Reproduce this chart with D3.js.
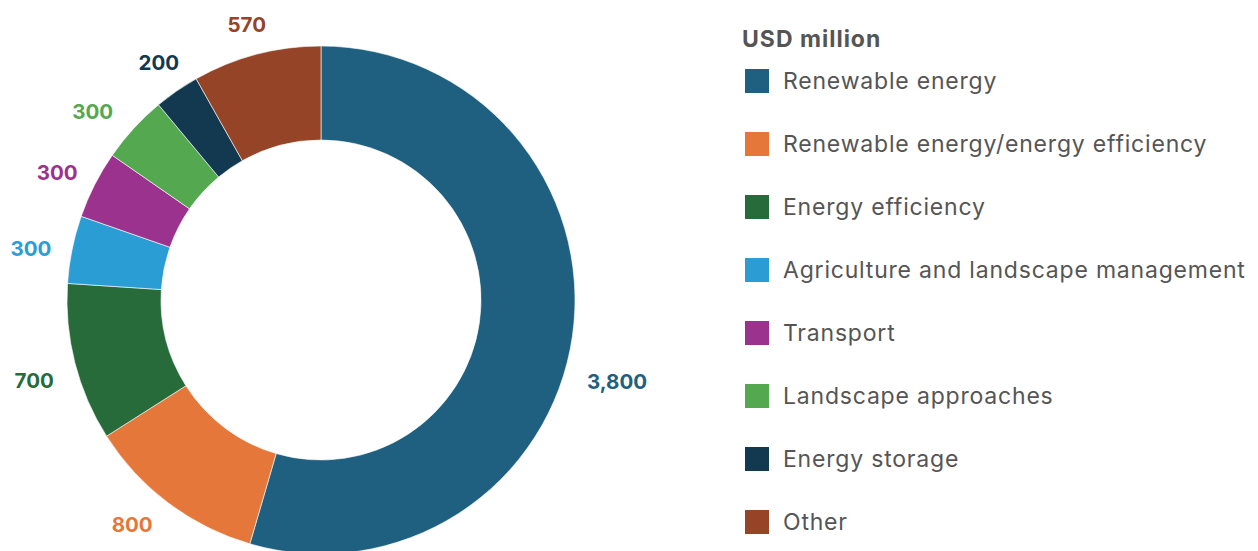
<!DOCTYPE html>
<html>
<head>
<meta charset="utf-8">
<script src="https://cdn.jsdelivr.net/npm/d3@7"></script>
<style>
  html, body { margin: 0; padding: 0; background: #fff; }
  svg { display: block; }
</style>
</head>
<body>
<svg id="chart" width="1258" height="551"></svg>
<script>
// Climate finance by sector, USD million
const categories = [
  "Renewable energy",
  "Renewable energy/energy efficiency",
  "Energy efficiency",
  "Agriculture and landscape management",
  "Transport",
  "Landscape approaches",
  "Energy storage",
  "Other"
];
const values = [3800, 800, 700, 300, 300, 300, 200, 570];
const valueLabels = ["3,800", "800", "700", "300", "300", "300", "200", "570"];
const colors = ["#1f6080", "#e6773b", "#276b3b", "#2a9dd4", "#9b338e", "#54a84f", "#12394f", "#954427"];
const legendTitle = "USD million";

const svg = d3.select("#chart");
const cx = 321, cy = 300, outerR = 254, innerR = 160, labelR = 296;

const pie = d3.pie().sort(null).value(d => d)(values);
const arc = d3.arc().innerRadius(innerR).outerRadius(outerR);
const labelArc = d3.arc().innerRadius(labelR).outerRadius(labelR);

const g = svg.append("g").attr("transform", `translate(${cx},${cy})`);

g.selectAll("path.slice")
  .data(pie)
  .join("path")
  .attr("class", "slice")
  .attr("d", arc)
  .attr("fill", (d, i) => colors[i])
  .attr("stroke", "#fff")
  .attr("stroke-width", 0.6);

// label placement tweaks so values sit clear of the ring
const nudge = { 0: [3, 33], 1: [-11, -19], 5: [-10, 4], 6: [6, -1], 7: [1, 4] };

g.selectAll("text.val")
  .data(pie)
  .join("text")
  .attr("class", "val")
  .attr("transform", (d, i) => {
    const [x, y] = labelArc.centroid(d);
    const [nx, ny] = nudge[i] || [0, 0];
    return `translate(${x + nx},${y + 7 + ny})`;
  })
  .attr("text-anchor", "middle")
  .attr("dominant-baseline", "central")
  .attr("font-family", "Inter, 'Noto Sans', sans-serif")
  .attr("font-weight", 700)
  .attr("font-size", 20.5)
  .attr("fill", (d, i) => colors[i])
  .text((d, i) => valueLabels[i]);

// legend
const legend = svg.append("g").attr("transform", "translate(742,0)");
legend.append("text")
  .attr("x", 0)
  .attr("y", 47)
  .attr("font-family", "Inter, 'Noto Sans', sans-serif")
  .attr("font-weight", 700)
  .attr("font-size", 23)
  .attr("letter-spacing", 1)
  .attr("fill", "#555")
  .text(legendTitle);

const rowY = d3.scalePoint().domain(d3.range(categories.length)).range([81, 522]);

const rows = legend.selectAll("g.row")
  .data(categories)
  .join("g")
  .attr("class", "row")
  .attr("transform", (d, i) => `translate(0,${rowY(i)})`);

rows.append("rect")
  .attr("x", 3)
  .attr("y", -12)
  .attr("width", 24)
  .attr("height", 24)
  .attr("fill", (d, i) => colors[i]);

rows.append("text")
  .attr("x", 41)
  .attr("y", 0)
  .attr("dominant-baseline", "central")
  .attr("font-family", "Inter, 'Noto Sans', sans-serif")
  .attr("font-size", 23)
  .attr("letter-spacing", 0.8)
  .attr("fill", "#555")
  .text(d => d);
</script>
</body>
</html>
